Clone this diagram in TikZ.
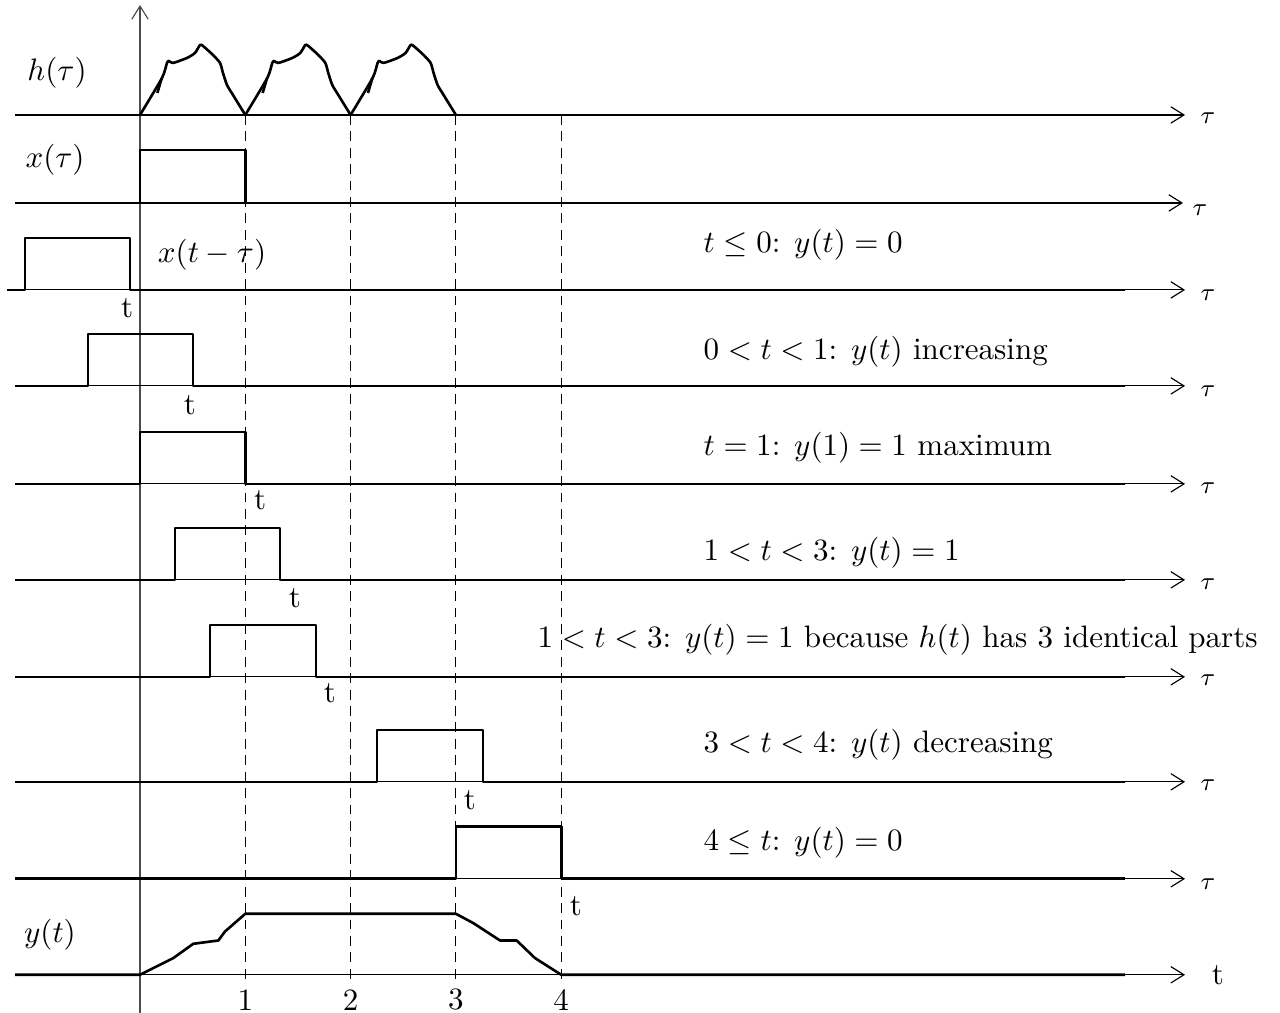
\documentclass[tikz,border=0pt]{standalone}
\usepackage{amsmath,amssymb}
\usepackage{tikz}
\usetikzlibrary{arrows.meta}
\tikzset{
  sig/.style={line width=0.8pt, line join=round},
  axis/.style={line width=0.35pt, -{Straight Barb[length=4pt,width=5pt]}},
  guide/.style={line width=0.35pt, dash pattern=on 3pt off 2pt},
  note/.style={anchor=west, inner sep=0pt},
  lbl/.style={inner sep=0pt, font=\footnotesize}
}

\begin{document}
\begin{tikzpicture}[x=1.127cm, y=1.07cm, every node/.style={scale=0.945}]
  \useasboundingbox (-1.3295,-0.38) rectangle (10.826,9.75);
  % axes
  \draw[axis, black!70] (0,-0.38) -- (0,9.70);
  \draw[axis] (-1.187,8.60) -- (9.924,8.60);
  \draw[axis] (-1.187,7.72) -- (9.905,7.72);
  \draw[axis] (-1.187,6.85) -- (9.924,6.85);
  \draw[axis] (-1.187,5.89) -- (9.924,5.89);
  \draw[axis] (-1.187,4.91) -- (9.924,4.91);
  \draw[axis] (-1.187,3.95) -- (9.924,3.95);
  \draw[axis] (-1.187,2.98) -- (9.924,2.98);
  \draw[axis] (-1.187,1.93) -- (9.924,1.93);
  \draw[axis] (-1.187,0.96) -- (9.924,0.96);
  \draw[axis] (-1.187,0) -- (9.924,0);
  \node[lbl] (tau1) at (10.142,8.57) {$\tau$};
  \node[lbl] (tau2) at (10.066,7.65) {$\tau$};
  \node[lbl] (tau3) at (10.142,6.80) {$\tau$};
  \node[lbl] (tau4) at (10.142,5.84) {$\tau$};
  \node[lbl] (tau5) at (10.142,4.87) {$\tau$};
  \node[lbl] (tau6) at (10.142,3.91) {$\tau$};
  \node[lbl] (tau7) at (10.142,2.95) {$\tau$};
  \node[lbl] (tau8) at (10.142,1.90) {$\tau$};
  \node[lbl] (tau9) at (10.142,0.91) {$\tau$};
  \node (taxis) at (10.237,0) {t};
  % guides
  \draw[guide] (1,8.60) -- (1,-0.05);
  \draw[guide] (2,8.60) -- (2,-0.05);
  \draw[guide] (3,8.60) -- (3,-0.05);
  \draw[guide] (4,8.60) -- (4,-0.05);
  \node (k1) at (1,-0.25) {1};
  \node (k2) at (2,-0.25) {2};
  \node (k3) at (3,-0.25) {3};
  \node (k4) at (4,-0.25) {4};
  % h(tau)
  \draw[sig] (-1.187,8.60) -- (0,8.60);
  \draw[sig] (3,8.60) -- (9.259,8.60);
  \foreach \k in {0,1,2}{
    \begin{scope}[shift={(\k,8.60)}]
      \draw[sig] plot[smooth, tension=0.4] coordinates {(0,0) (0.209,0.37)
        (0.256,0.52) (0.275,0.54) (0.313,0.52) (0.446,0.57) (0.522,0.62)
        (0.570,0.70) (0.598,0.69) (0.693,0.60) (0.760,0.52) (0.788,0.42)
        (0.826,0.30) (0.883,0.20) (1,0)};
      \draw[sig] (0.206,0.367) -- (0.165,0.22);
    \end{scope}
  }
  \node (h) at (-0.788,9.02) {$h(\tau)$};
  % x(tau)
  \draw[sig] (-1.187,7.72) -- (0,7.72) -- (0,8.25) -- (1,8.25) -- (1,7.72) -- (9.85,7.72);
  \node (x) at (-0.807,8.15) {$x(\tau)$};
  % shifted pulses
  \draw[sig] (-1.263,6.85) -- (-1.092,6.85) -- (-1.092,7.37) -- (-0.095,7.37) -- (-0.095,6.85) -- (9.354,6.85);
  \draw[sig] (-1.187,5.89) -- (-0.494,5.89) -- (-0.494,6.41) -- (0.503,6.41) -- (0.503,5.89) -- (9.354,5.89);
  \draw[sig] (-1.187,4.91) -- (0,4.91) -- (0,5.43) -- (1,5.43) -- (1,4.91) -- (9.354,4.91);
  \draw[sig] (-1.187,3.95) -- (0.332,3.95) -- (0.332,4.47) -- (1.330,4.47) -- (1.330,3.95) -- (9.354,3.95);
  \draw[sig] (-1.187,2.98) -- (0.665,2.98) -- (0.665,3.50) -- (1.671,3.50) -- (1.671,2.98) -- (9.354,2.98);
  \draw[sig] (-1.187,1.93) -- (2.251,1.93) -- (2.251,2.45) -- (3.257,2.45) -- (3.257,1.93) -- (9.354,1.93);
  \draw[sig] (-1.187,0.96) -- (3,0.96) -- (3,1.48) -- (4,1.48) -- (4,0.96) -- (9.354,0.96);
  \node (xs) at (0.684,7.20) {$x(t-\tau)$};
  \node (t3) at (-0.123,6.67) {t};
  \node (t4) at (0.475,5.70) {t};
  \node (t5) at (1.140,4.75) {t};
  \node (t6) at (1.472,3.77) {t};
  \node (t7) at (1.804,2.82) {t};
  \node (t8) at (3.134,1.75) {t};
  \node (t9) at (4.140,0.69) {t};
  % notes
  \node[note] (c3) at (5.347,7.30) {$t\le 0$: $y(t)=0$};
  \node[note] (c4) at (5.347,6.23) {$0<t<1$: $y(t)$ increasing};
  \node[note] (c5) at (5.347,5.27) {$t=1$: $y(1)=1$ maximum};
  \node[note] (c6) at (5.347,4.22) {$1<t<3$: $y(t)=1$};
  \node[note] (c7) at (3.770,3.35) {$1<t<3$: $y(t)=1$ because $h(t)$ has 3 identical parts};
  \node[note] (c8) at (5.347,2.30) {$3<t<4$: $y(t)$ decreasing};
  \node[note] (c9) at (5.347,1.32) {$4\le t$: $y(t)=0$};
  % y(t)
  \draw[sig] (-1.187,0) -- (0,0) -- (0.316,0.167) -- (0.506,0.31) -- (0.744,0.343)
    -- (0.807,0.433) -- (1,0.61) -- (3,0.61) -- (3.165,0.517) -- (3.419,0.343)
    -- (3.577,0.343) -- (3.751,0.167) -- (4,0) -- (9.354,0);
  \node (y) at (-0.855,0.40) {$y(t)$};
\end{tikzpicture}
\end{document}
